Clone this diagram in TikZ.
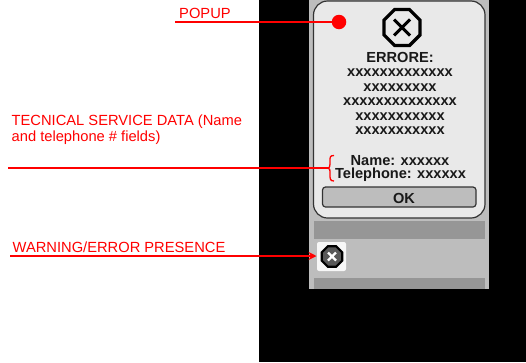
\documentclass[tikz,border=0pt]{standalone}
\usepackage{fontspec}
\setmainfont{Liberation Sans}
\usetikzlibrary{shapes.geometric,arrows.meta}
\definecolor{phonegrey}{HTML}{BDBDBD}
\definecolor{bargrey}{HTML}{969696}
\definecolor{popfill}{HTML}{E9E9E9}
\definecolor{darkline}{HTML}{333333}
\tikzset{
  note/.style={text=red,font=\fontsize{14.7}{16}\selectfont,anchor=west,inner sep=0pt,align=left},
  msg/.style={text=black!90,font=\fontsize{14.6}{14.6}\bfseries\selectfont,inner sep=0pt},
  leader/.style={color=red,line width=1.5pt},
  oct/.style={regular polygon,regular polygon sides=8,draw=black,inner sep=0pt},
}
\begin{document}
\begin{tikzpicture}[x=1pt,y=-1pt]
\useasboundingbox (0,0) rectangle (526,362);
\fill[white] (0,0) rectangle (526,362);
\fill[black] (259,0) rectangle (526,362);
\fill[phonegrey] (309,0) rectangle (489,289);
\fill[bargrey] (314,221) rectangle (485,239);
\fill[bargrey] (314,278) rectangle (485,289);
\draw[draw=darkline,fill=popfill,line width=1.2pt,rounded corners=14pt] (313.5,1) rectangle (485,218);
% big icon
\node[oct,minimum size=39pt,line width=3.2pt,fill=popfill] (bigicon) at (402,27.5) {};
\draw[black,line width=3pt] (394,19.5) -- (410,35.5) (410,19.5) -- (394,35.5);
% texts
\node[msg] (errore) at (400,57) {ERRORE:};
\node[msg] (l1) at (400,73) {xxxxxxxxxxxxx};
\node[msg] (l2) at (400,87.5) {xxxxxxxxx};
\node[msg] (l3) at (400,102) {xxxxxxxxxxxxxx};
\node[msg] (l4) at (400,117) {xxxxxxxxxxx};
\node[msg] (l5) at (400,131) {xxxxxxxxxxx};
\node[msg] (name) at (400,160.5) {Name: xxxxxx};
\node[msg] (tel) at (400.5,175) {Telephone: xxxxxx};
\draw[draw=darkline,fill=phonegrey,line width=1.2pt,rounded corners=3pt] (322.5,187) rectangle (476,207);
\node[msg] (ok) at (404,198.5) {OK};
% small icon
\fill[white!97!black,rounded corners=2pt] (317,242) rectangle (346,271);
\node[oct,minimum size=22pt,line width=2.2pt,draw=black,fill=black!65] (smallicon) at (332,256.5) {};
\draw[white,line width=2.2pt] (328,252.5) -- (336,260.5) (336,252.5) -- (328,260.5);
% labels
\node[note] (popup) at (179,13) {POPUP};
\node[note] (tec) at (11.5,130) {TECNICAL SERVICE DATA (Name\\and telephone \# fields)};
\node[note] (warn) at (12.5,247) {WARNING/ERROR PRESENCE};
% connectors
\node[circle,fill=red,minimum size=14.5pt,inner sep=0pt] (dot) at (339,22) {};
\coordinate (popstart) at (175,22);
\coordinate (tecstart) at (8,168);
\coordinate (warnstart) at (10,256);
\coordinate (arrowtip) at (316.5,256);
\coordinate (bracetip) at (328,168);
\coordinate (bracetop) at (334,155.5);
\coordinate (bracebot) at (334,181);
\draw[leader] (popstart) -- (dot);
\draw[leader] (tecstart) -- (bracetip);
\draw[leader,-{Stealth[length=8pt,width=8pt]}] (warnstart) -- (arrowtip);
\draw[color=red,line width=1.3pt,line join=round] (bracetop) .. controls (330,155.5) and (330,157) .. (330,161) .. controls (330,165) and (330,168) .. (bracetip) .. controls (330,168) and (330,170) .. (330,174) .. controls (330,179) and (330,181) .. (bracebot);
\end{tikzpicture}
\end{document}
